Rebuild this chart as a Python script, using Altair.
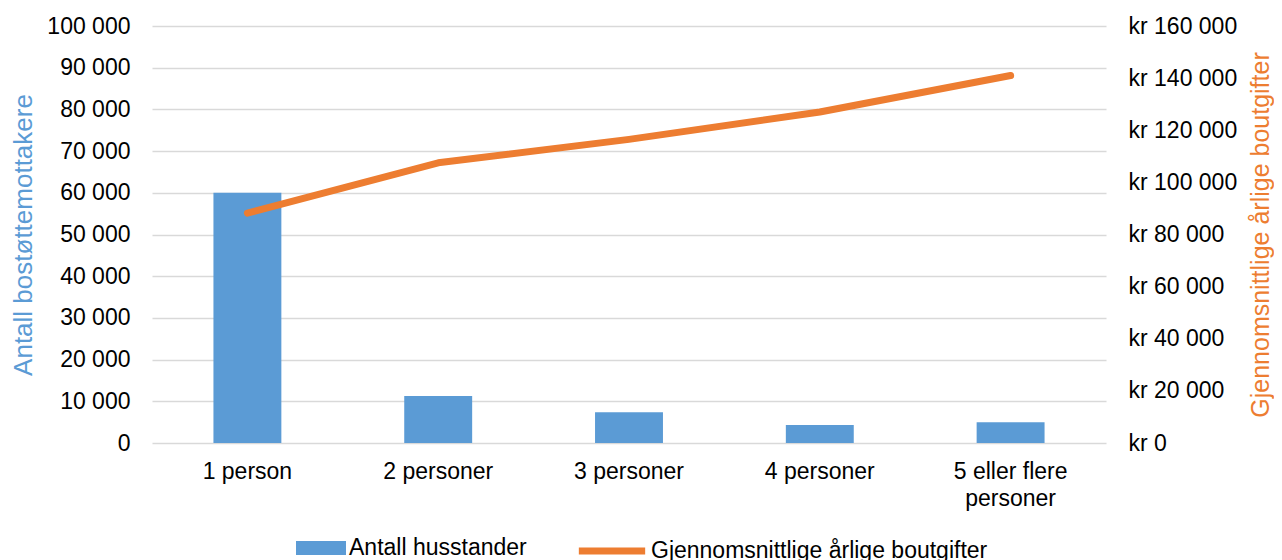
import altair as alt
import pandas as pd

categories = ["1 person", "2 personer", "3 personer", "4 personer", "5 eller flere personer"]
households = [60000, 11300, 7400, 4300, 5000]
costs = [88200, 107500, 116500, 127000, 141000]
bar_series = "Antall husstander"
line_series = "Gjennomsnittlige årlige boutgifter"
left_title = "Antall bostøttemottakere"
right_title = "Gjennomsnittlige årlige boutgifter"
left_ticks = [0, 10000, 20000, 30000, 40000, 50000, 60000, 70000, 80000, 90000, 100000]
right_ticks = [0, 20000, 40000, 60000, 80000, 100000, 120000, 140000, 160000]

df = pd.DataFrame({
    "kategori": categories,
    "husstander": households,
    "boutgifter": costs,
    "s1": bar_series,
    "s2": line_series,
})

FONT = "Liberation Sans"
BLUE = "#5B9BD5"
ORANGE = "#ED7D31"
GRID = "#D9D9D9"
TXT = "#000000"

x_enc = alt.X(
    "kategori:N",
    sort=categories,
    scale=alt.Scale(paddingInner=0.644, paddingOuter=0.322),
    axis=alt.Axis(
        title=None, labelAngle=0, labelFont=FONT, labelFontSize=23, labelColor=TXT,
        labelPadding=17, ticks=False, domain=False, grid=False,
        labelLineHeight=27, labelBaseline="top",
        labelExpr="datum.label == '5 eller flere personer' ? ['5 eller flere', 'personer'] : datum.label",
    ),
)

bars = alt.Chart(df).mark_bar().encode(
    x=x_enc,
    y=alt.Y(
        "husstander:Q",
        scale=alt.Scale(domain=[0, 100000], nice=False),
        axis=alt.Axis(
            title=left_title, titleColor=BLUE, titleFont=FONT, titleFontSize=26,
            titleFontWeight="normal", titlePadding=10,
            values=left_ticks, labelFont=FONT, labelFontSize=23, labelColor=TXT,
            labelPadding=22, ticks=False, domain=False,
            grid=True, gridColor=GRID, gridWidth=1.5,
            labelExpr="replace(format(datum.value, ','), regexp(',', 'g'), ' ')",
        ),
    ),
    fill=alt.Fill(
        "s1:N",
        scale=alt.Scale(range=[BLUE]),
        legend=alt.Legend(
            title=None, orient="none", legendX=144, legendY=497,
            symbolType="M-1,-0.28L1,-0.28L1,0.28L-1,0.28Z", symbolSize=2500,
            symbolStrokeWidth=0, labelFont=FONT, labelFontSize=23, labelColor=TXT,
            labelOffset=3, padding=0, labelLimit=0,
        ),
    ),
)

line = alt.Chart(df).mark_line(strokeWidth=7, strokeCap="round", strokeJoin="round").encode(
    x=x_enc,
    y=alt.Y(
        "boutgifter:Q",
        scale=alt.Scale(domain=[0, 160000], nice=False),
        axis=alt.Axis(
            orient="right",
            title=right_title, titleColor=ORANGE, titleFont=FONT, titleFontSize=25,
            titleFontWeight="normal", titlePadding=12, titleAngle=270, titleBaseline="top",
            values=right_ticks, labelFont=FONT, labelFontSize=23, labelColor=TXT,
            labelPadding=22, ticks=False, domain=False, grid=False,
            labelExpr="'kr ' + replace(format(datum.value, ','), regexp(',', 'g'), ' ')",
        ),
    ),
    stroke=alt.Stroke(
        "s2:N",
        scale=alt.Scale(range=[ORANGE]),
        legend=alt.Legend(
            title=None, orient="none", legendX=423, legendY=488,
            symbolType="stroke", symbolSize=4400, symbolStrokeWidth=7,
            labelFont=FONT, labelFontSize=23, labelColor=TXT,
            labelOffset=2, padding=0, labelLimit=0,
        ),
    ),
)

chart = (
    alt.layer(bars, line)
    .resolve_scale(y="independent", x="shared")
    .properties(
        width=954,
        height=417,
        autosize=alt.AutoSizeParams(type="none"),
        padding={"left": 144, "top": 18, "right": 168, "bottom": 130},
    )
    .configure_view(stroke=None)
)

chart.save("out.html", embed_options={"renderer": "svg", "actions": False})
